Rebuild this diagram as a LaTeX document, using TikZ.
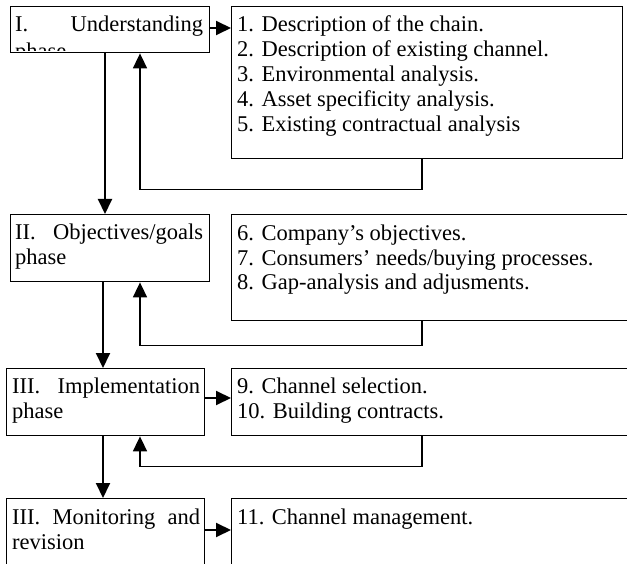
\documentclass[tikz,border=0pt]{standalone}
\usepackage{fontspec}
\setmainfont{Liberation Serif}
\usetikzlibrary{arrows.meta}
\begin{document}
\begin{tikzpicture}[x=1pt,y=-1pt,
  box/.style={draw, line width=1.4pt, inner sep=0pt, anchor=north west},
  txt/.style={inner sep=0pt, anchor=base west, font=\fontsize{22.5}{25}\selectfont},
  arr/.style={line width=2pt, -{Triangle[length=15pt,width=14pt]}},
  fb/.style={line width=1.7pt, -{Triangle[length=15pt,width=14pt]}}]
\useasboundingbox (0,0) rectangle (627,564);
\clip (0,0) rectangle (627,564);

% phase boxes (left column)
\begin{scope}
  \clip (10,6) rectangle (209,51);
  \node[txt] (t1b) at (15,59) {phase};
\end{scope}
\node[box, minimum width=199pt, minimum height=46pt]  (b1) at (10,6)   {};
\node[box, minimum width=199pt, minimum height=67pt]  (b2) at (10,214) {};
\node[box, minimum width=198pt, minimum height=67pt]  (b3) at (6,368)  {};
\node[box, minimum width=198pt, minimum height=82pt]  (b4) at (6,498)  {};

\node[txt] (t1a) at (15,32)  {\hbox to 188pt{I.\hfill Understanding}};
\node[txt] (t2a) at (15,240) {\hbox to 188pt{II.\hfill Objectives/goals}};
\node[txt] (t2b) at (15,265) {phase};
\node[txt] (t3a) at (12,393) {\hbox to 188pt{III.\hfill Implementation}};
\node[txt] (t3b) at (12,418) {phase};
\node[txt] (t4a) at (12,524) {\hbox to 188pt{III.\hfill Monitoring\hfill and}};
\node[txt] (t4b) at (12,549) {revision};

% task boxes (right column)
\node[box, minimum width=391pt, minimum height=152pt] (r1) at (231,6)   {};
\node[box, minimum width=429pt, minimum height=106pt] (r2) at (231,214) {};
\node[box, minimum width=429pt, minimum height=67pt]  (r3) at (231,368) {};
\node[box, minimum width=429pt, minimum height=82pt]  (r4) at (231,498) {};

\node[txt] (s1) at (237,32)  {1. Description of the chain.};
\node[txt] (s2) at (237,57)  {2. Description of existing channel.};
\node[txt] (s3) at (237,82)  {3. Environmental analysis.};
\node[txt] (s4) at (237,107) {4. Asset specificity analysis.};
\node[txt] (s5) at (237,132) {5. Existing contractual analysis};
\node[txt] (s6) at (237,241) {6. Company’s objectives.};
\node[txt] (s7) at (237,265.5) {7. Consumers’ needs/buying processes.};
\node[txt] (s8) at (237,290) {8. Gap-analysis and adjusments.};
\node[txt] (s9) at (237,393) {9. Channel selection.};
\node[txt] (s10) at (237,418) {10. Building contracts.};
\node[txt] (s11) at (237,524) {11. Channel management.};

% guide coordinates for the connectors
\coordinate (d1) at (105,0);
\coordinate (d2) at (103,0);
\coordinate (fx) at (422,0);
\coordinate (gx) at (140,0);
\coordinate (h1) at (0,28);
\coordinate (h3) at (0,398);
\coordinate (h4) at (0,530);

% phase to task arrows
\draw[arr] (b1.east |- h1) -- (r1.west |- h1);
\draw[arr] (b3.east |- h3) -- (r3.west |- h3);
\draw[arr] (b4.east |- h4) -- (r4.west |- h4);

% phase sequence
\draw[arr] (d1 |- b1.south) -- (d1 |- b2.north);
\draw[arr] (d2 |- b2.south) -- (d2 |- b3.north);
\draw[arr] (d2 |- b3.south) -- (d2 |- b4.north);

% feedback loops
\draw[fb] (fx |- r1.south) -- ++(0,30) -| (gx |- b1.south);
\draw[fb] (fx |- r2.south) -- ++(0,24) -| (gx |- b2.south);
\draw[fb] (fx |- r3.south) -- ++(0,30) -| (gx |- b3.south);
\end{tikzpicture}
\end{document}
